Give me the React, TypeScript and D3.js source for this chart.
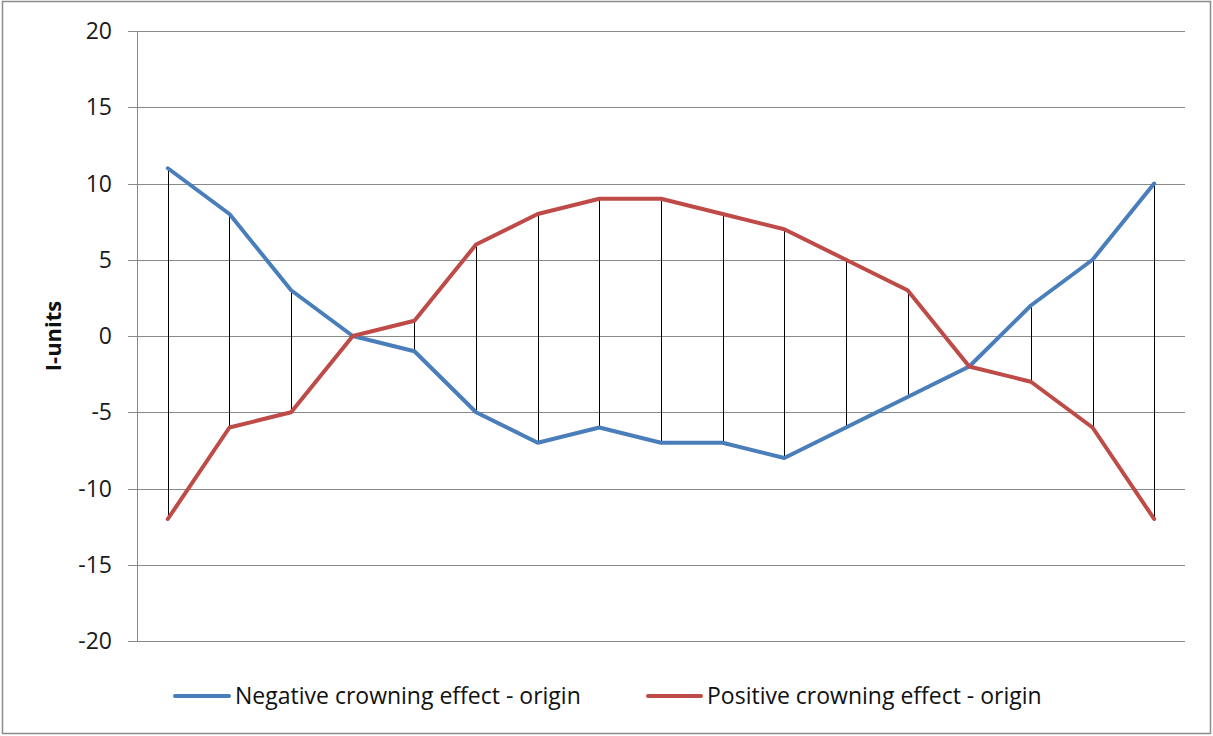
import React, { useEffect, useRef } from "react";
import * as d3 from "d3";

const categories = d3.range(1, 18).map(String);
const negativeSeries = [11, 8, 3, 0, -1, -5, -7, -6, -7, -7, -8, -6, -4, -2, 2, 5, 10];
const positiveSeries = [-12, -6, -5, 0, 1, 6, 8, 9, 9, 8, 7, 5, 3, -2, -3, -6, -12];
const yTicks = [-20, -15, -10, -5, 0, 5, 10, 15, 20];
const seriesNames = ["Negative crowning effect - origin", "Positive crowning effect - origin"];
const colors = ["#4a7ebb", "#be4b48"];

const W = 1213, H = 736;
const plot = { left: 137, right: 1185, top: 31, bottom: 641 };
const FONT = "'Open Sans', 'Liberation Sans', sans-serif";

export default function App() {
  const ref = useRef<SVGSVGElement>(null);
  useEffect(() => {
    document.body.style.margin = "0";
    const svg = d3.select(ref.current);
    svg.selectAll("*").remove();
    svg.append("rect").attr("x", 2.5).attr("y", 1.5).attr("width", W - 5).attr("height", H - 4)
      .attr("fill", "white").attr("stroke", "#8c8c8c").attr("stroke-width", 1.5);

    const x = d3.scalePoint<string>().domain(categories).range([plot.left, plot.right]).padding(0.5);
    const y = d3.scaleLinear().domain([-20, 20]).range([plot.bottom, plot.top]);

    svg.append("g").selectAll("line").data(yTicks).join("line")
      .attr("x1", plot.left - 9).attr("x2", plot.right)
      .attr("y1", (d) => Math.round(y(d)) + 0.5).attr("y2", (d) => Math.round(y(d)) + 0.5)
      .attr("stroke", "#898989").attr("stroke-width", 1);
    svg.append("line").attr("x1", plot.left + 0.5).attr("x2", plot.left + 0.5)
      .attr("y1", plot.top).attr("y2", plot.bottom).attr("stroke", "#898989");

    svg.append("g").selectAll("text").data(yTicks).join("text")
      .attr("x", 112).attr("y", (d) => y(d)).attr("dy", "0.35em")
      .attr("text-anchor", "end").attr("font-family", FONT).attr("font-size", 23)
      .attr("fill", "#1a1a1a").text((d) => String(d));

    svg.append("text").attr("transform", `translate(61,${(plot.top + plot.bottom) / 2}) rotate(-90)`)
      .attr("text-anchor", "middle").attr("font-family", FONT).attr("font-size", 22)
      .attr("font-weight", "bold").attr("fill", "#111").text("I-units");

    svg.append("g").selectAll("line").data(categories).join("line")
      .attr("x1", (c) => Math.round(x(c)!) + 0.5).attr("x2", (c) => Math.round(x(c)!) + 0.5)
      .attr("y1", (_, i) => y(negativeSeries[i])).attr("y2", (_, i) => y(positiveSeries[i]))
      .attr("stroke", "#000").attr("stroke-width", 1);

    const line = d3.line<number>().x((_, i) => x(categories[i])!).y((d) => y(d));
    [negativeSeries, positiveSeries].forEach((s, k) => {
      svg.append("path").datum(s).attr("d", line).attr("fill", "none")
        .attr("stroke", colors[k]).attr("stroke-width", 4)
        .attr("stroke-linejoin", "round").attr("stroke-linecap", "round");
    });

    const legendItems = [
      { x1: 175, x2: 229, tx: 235 },
      { x1: 648, x2: 701, tx: 707 },
    ];
    legendItems.forEach((it, k) => {
      svg.append("line").attr("x1", it.x1).attr("x2", it.x2).attr("y1", 696).attr("y2", 696)
        .attr("stroke", colors[k]).attr("stroke-width", 4).attr("stroke-linecap", "round");
      svg.append("text").attr("x", it.tx).attr("y", 696).attr("dy", "0.35em")
        .attr("font-family", FONT).attr("font-size", 23).attr("fill", "#111")
        .text(seriesNames[k]);
    });
  }, []);
  return <svg ref={ref} width={W} height={H} style={{ display: "block" }} />;
}
